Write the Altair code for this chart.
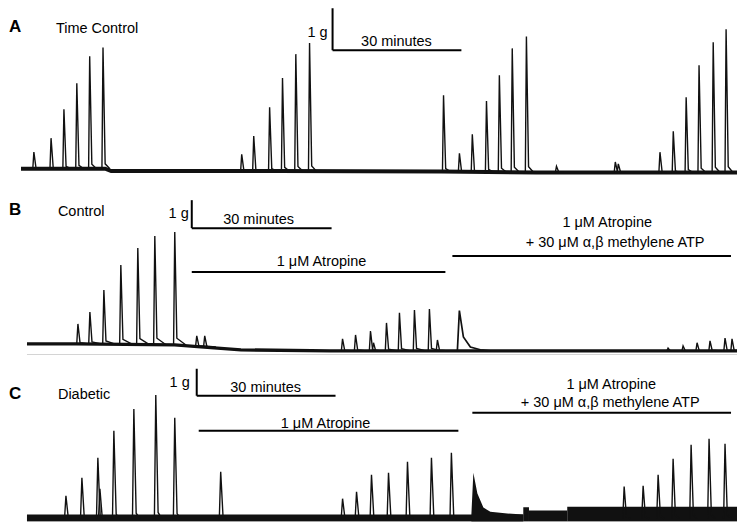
import altair as alt
import pandas as pd

W = 729
FONT = "Liberation Sans"
INK = "#111111"

# ---------------- Panel A : Time Control (x in minutes, y in grams) ----------------
A_SPIKE_T = [3.0, 7.0, 10.0, 13.0, 16.0, 19.1,
             51.4, 54.2, 57.9, 60.9, 64.0, 67.2,
             98.4,
             102.1, 105.1, 108.4, 111.4, 114.4, 117.7,
             124.7, 138.4, 139.1,
             148.8, 151.9, 154.9, 157.9, 161.2, 164.2]
A_SPIKE_TOP = [0.375, 0.667, 1.27, 1.81, 2.375, 2.56,
               0.33, 0.71, 1.31, 1.92, 2.42, 2.65,
               1.56,
               0.35, 0.75, 1.44, 1.98, 2.54, 2.79,
               0.08, 0.17, 0.13,
               0.375, 0.81, 1.52, 2.19, 2.67, 2.94]
A_SPIKE_BASE = [0.03] * 6 + [-0.02] * 6 + [-0.03] + [-0.04] * 6 + [-0.04] * 3 + [-0.05] * 6
A_BASE_T = [0.0, 19.6, 21.0, 60.0, 98.0, 120.0, 167.4]
A_BASE_G = [0.03, 0.03, -0.02, -0.02, -0.03, -0.05, -0.05]
A_BAR_T0 = [72.56, 72.56]
A_BAR_T1 = [72.56, 102.56]
A_BAR_G0 = [2.5, 2.5]
A_BAR_G1 = [3.5, 2.5]
A_TEXT = [("A", -2.79, 2.875, "left", "bold", 17),
          ("Time Control", 8.14, 2.854, "left", "normal", 14.5),
          ("1 g", 71.4, 2.77, "right", "normal", 14.5),
          ("30 minutes", 87.44, 2.583, "center", "normal", 14.5)]

# ---------------- Panel B : Control ----------------
B_SPIKE_T = [10.93, 13.50, 16.50, 20.14, 23.78, 27.43, 31.71, 36.43, 38.14,
             67.71, 70.50, 73.71, 74.35, 77.14, 79.92, 83.14, 86.35, 88.07,
             137.56, 140.78, 143.78, 146.56, 149.78, 151.28]
B_SPIKE_TOP = [0.964, 1.393, 2.179, 3.071, 3.679, 4.107, 4.25, 0.536, 0.536,
               0.43, 0.57, 0.71, 0.29, 1.00, 1.36, 1.46, 1.50, 0.39,
               0.10, 0.18, 0.29, 0.36, 0.46, 0.43]
B_SPIKE_BASE = [0.25, 0.25, 0.24, 0.24, 0.23, 0.22, 0.21, 0.16, 0.14] + [0.0] * 15
B_BASE_T = [0.0, 10.5, 31.7, 37.3, 45.9, 65.1, 153.0]
B_BASE_G = [0.25, 0.25, 0.214, 0.143, 0.036, 0.0, 0.0]
B_ATP_T = [92.35, 92.78, 93.64, 95.14, 97.28, 99.42]
B_ATP_G = [0.0, 1.44, 0.50, 0.14, 0.04, 0.0]
B_BAR_T0 = [35.36, 35.36, 35.36, 91.28]
B_BAR_T1 = [35.36, 65.36, 89.78, 151.06]
B_BAR_G0 = [4.39, 4.39, 2.82, 3.393]
B_BAR_G1 = [5.39, 4.39, 2.82, 3.393]
B_TEXT = [("B", -3.86, 4.857, "left", "bold", 17),
          ("Control", 6.64, 4.82, "left", "normal", 14.5),
          ("1 g", 34.71, 4.75, "right", "normal", 14.5),
          ("30 minutes", 49.71, 4.536, "center", "normal", 14.5),
          ("1 μM Atropine", 63.21, 3.036, "center", "normal", 14.5),
          ("1 μM Atropine", 124.5, 4.43, "center", "normal", 14.5),
          ("+ 30 μM α,β methylene ATP", 126.2, 3.714, "center", "normal", 14.5)]

# ---------------- Panel C : Diabetic ----------------
C_SPIKE_T = [8.42, 11.87, 15.32, 15.76, 18.78, 23.10, 27.84, 31.94, 41.87,
             68.21, 71.23, 74.46, 78.14, 82.24, 87.42, 91.73,
             129.07, 133.17, 136.41, 139.65, 143.54, 147.42, 150.87]
C_SPIKE_TOP = [0.85, 1.52, 2.26, 1.11, 3.26, 4.07, 4.59, 3.74, 1.74,
               0.74, 1.00, 1.63, 1.70, 2.11, 2.26, 2.44,
               1.19, 1.22, 1.63, 2.22, 2.74, 2.96, 2.78]
C_SPIKE_BASE = [0.0] * 23
C_BAND_T0 = [0.0, 107.27, 108.5, 116.77]
C_BAND_T1 = [107.27, 108.5, 116.77, 154.1]
C_BAND_LO = [-0.11, -0.11, -0.11, -0.11]
C_BAND_HI = [0.15, 0.42, 0.30, 0.44]
C_ATP_T = [96.05, 96.48, 97.35, 98.64, 100.15, 103.82, 107.27]
C_ATP_G = [0.15, 1.70, 0.93, 0.41, 0.26, 0.19, 0.15]
C_BAR_T0 = [36.69, 36.69, 37.12, 96.26]
C_BAR_T1 = [36.69, 66.69, 93.24, 152.17]
C_BAR_G0 = [4.556, 4.556, 3.259, 3.926]
C_BAR_G1 = [5.556, 4.556, 3.259, 3.926]
C_TEXT = [("C", -3.885, 4.444, "left", "bold", 17),
          ("Diabetic", 6.69, 4.444, "left", "normal", 14.5),
          ("1 g", 35.18, 4.889, "right", "normal", 14.5),
          ("30 minutes", 51.59, 4.704, "center", "normal", 14.5),
          ("1 μM Atropine", 64.54, 3.370, "center", "normal", 14.5),
          ("1 μM Atropine", 126.27, 4.815, "center", "normal", 14.5),
          ("+ 30 μM α,β methylene ATP", 126.05, 4.148, "center", "normal", 14.5)]


def spike_frame(ts, tops, bases, rise, fall, tail_frac, tail_end):
    rows = []
    for i, (t, top, b) in enumerate(zip(ts, tops, bases)):
        h = top - b
        pts = [(t - rise, b), (t, top), (t + fall, b + tail_frac * h), (t + tail_end, b)]
        for k, (x, y) in enumerate(pts):
            rows.append({"id": i, "k": k, "t": x, "g": y, "b": b})
    return pd.DataFrame(rows)


def make_panel(height, xdom, ydom, spikes, bars, texts, baseline=None, base_width=3.0,
               bands=None, atp=None, atp_area=False, faint=None):
    xs = alt.Scale(domain=xdom, nice=False, zero=False)
    ys = alt.Scale(domain=ydom, nice=False, zero=False)
    X = lambda f: alt.X(f, type="quantitative", scale=xs, axis=None)
    Y = lambda f: alt.Y(f, type="quantitative", scale=ys, axis=None)
    layers = []
    if faint is not None:
        layers.append(alt.Chart(faint).mark_line(color="#d4d4d4", strokeWidth=1, clip=True)
                      .encode(x=X("t"), y=Y("g")))
    if bands is not None:
        layers.append(alt.Chart(bands).mark_rect(color=INK, clip=True)
                      .encode(x=X("t0"), x2="t1", y=Y("lo"), y2="hi"))
    if baseline is not None:
        layers.append(alt.Chart(baseline).mark_line(color=INK, strokeWidth=base_width, clip=True)
                      .encode(x=X("t"), y=Y("g")))
    if atp is not None:
        if atp_area:
            layers.append(alt.Chart(atp).mark_area(color=INK, clip=True)
                          .encode(x=X("t"), y=Y("g"), y2="lo"))
        else:
            layers.append(alt.Chart(atp).mark_line(color=INK, strokeWidth=1.7, clip=True)
                          .encode(x=X("t"), y=Y("g")))
    # light grey fill inside each contraction, then the dark outline
    layers.append(alt.Chart(spikes).mark_area(color="#8a8a8a", clip=True)
                  .encode(x=X("t"), y=Y("g"), y2="b", detail="id:N", order="k:Q"))
    layers.append(alt.Chart(spikes).mark_line(color=INK, strokeWidth=1.4, clip=True)
                  .encode(x=X("t"), y=Y("g"), detail="id:N", order="k:Q"))
    layers.append(alt.Chart(bars).mark_rule(color="#000000", strokeWidth=2, clip=True)
                  .encode(x=X("t0"), x2="t1", y=Y("g0"), y2="g1"))
    for label, t, g, align, weight, size in texts:
        df = pd.DataFrame({"label": [label], "t": [t], "g": [g]})
        layers.append(alt.Chart(df).mark_text(align=align, baseline="alphabetic", font=FONT,
                                              fontSize=size, fontWeight=weight, color="#000000")
                      .encode(x=X("t"), y=Y("g"), text="label:N"))
    return alt.layer(*layers).properties(width=W, height=height)


# Panel A
a_sp = spike_frame(A_SPIKE_T, A_SPIKE_TOP, A_SPIKE_BASE, 0.25, 0.5, 0.04, 1.6)
a_base = pd.DataFrame({"t": A_BASE_T, "g": A_BASE_G})
a_bars = pd.DataFrame({"t0": A_BAR_T0, "t1": A_BAR_T1, "g0": A_BAR_G0, "g1": A_BAR_G1})
panel_a = make_panel(172, [-2.791, 166.74], [-0.208, 3.375], a_sp, a_bars, A_TEXT,
                     baseline=a_base, base_width=4.0)

# Panel B
b_sp = spike_frame(B_SPIKE_T, B_SPIKE_TOP, B_SPIKE_BASE, 0.25, 0.45, 0.06, 2.4)
b_base = pd.DataFrame({"t": B_BASE_T, "g": B_BASE_G})
b_bars = pd.DataFrame({"t0": B_BAR_T0, "t1": B_BAR_T1, "g0": B_BAR_G0, "g1": B_BAR_G1})
b_atp = pd.DataFrame({"t": B_ATP_T, "g": B_ATP_G})
b_faint = pd.DataFrame({"t": [0.0, 153.0], "g": [-0.13, -0.13]})
panel_b = make_panel(175, [-3.857, 152.35], [-0.143, 6.107], b_sp, b_bars, B_TEXT,
                     baseline=b_base, base_width=3.3, atp=b_atp, faint=b_faint)

# Panel C
c_sp = spike_frame(C_SPIKE_T, C_SPIKE_TOP, C_SPIKE_BASE, 0.3, 0.5, 0.05, 1.3)
c_bands = pd.DataFrame({"t0": C_BAND_T0, "t1": C_BAND_T1, "lo": C_BAND_LO, "hi": C_BAND_HI})
c_bars = pd.DataFrame({"t0": C_BAR_T0, "t1": C_BAR_T1, "g0": C_BAR_G0, "g1": C_BAR_G1})
c_atp = pd.DataFrame({"t": C_ATP_T, "g": C_ATP_G, "lo": [-0.11] * len(C_ATP_T)})
panel_c = make_panel(167, [-3.885, 153.46], [-0.111, 6.074], c_sp, c_bars, C_TEXT,
                     bands=c_bands, atp=c_atp, atp_area=True)

chart = (alt.vconcat(panel_a, panel_b, panel_c, spacing=0)
         .properties(padding=0)
         .configure_view(stroke=None))

chart.save("out.html", embed_options={"renderer": "svg", "actions": False})
